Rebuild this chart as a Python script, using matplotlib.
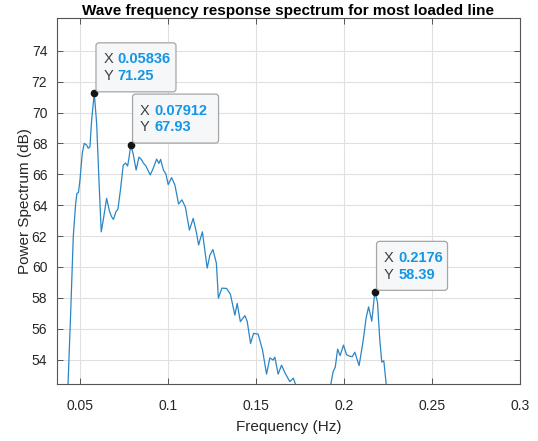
import matplotlib
matplotlib.use("Agg")
import matplotlib.pyplot as plt
from matplotlib.patches import FancyBboxPatch

plt.rcParams['font.family'] = ['Liberation Sans', 'DejaVu Sans']

# Power spectrum of the line tension (frequency in Hz, power in dB)
freq = [0.0432, 0.04495, 0.04643, 0.04779, 0.04853, 0.04938, 0.05023, 0.05153,
        0.05267, 0.05403, 0.05494, 0.0559, 0.05686, 0.05836, 0.0597, 0.06101,
        0.06231, 0.06345, 0.06537, 0.06696, 0.06821, 0.06923, 0.07065, 0.07178,
        0.0732, 0.07479, 0.07615, 0.07729, 0.07802, 0.07912, 0.08058, 0.08211,
        0.0837, 0.08512, 0.08625, 0.08767, 0.09011, 0.09181, 0.09374, 0.09504,
        0.09601, 0.0976, 0.09901, 0.10032, 0.10225, 0.10412, 0.10622, 0.10809,
        0.11008, 0.11235, 0.1145, 0.11643, 0.11756, 0.11972, 0.12244, 0.12398,
        0.12568, 0.12766, 0.1288, 0.13078, 0.13345, 0.13561, 0.13816, 0.13946,
        0.14128, 0.14383, 0.14514, 0.14707, 0.14877, 0.15138, 0.15387, 0.15614,
        0.15801, 0.15989, 0.16085, 0.16272, 0.16465, 0.16652, 0.16936, 0.17135,
        0.17333, 0.1830, 0.19234, 0.19392, 0.19517, 0.19648, 0.19789, 0.19982,
        0.20153, 0.2034, 0.20482, 0.20623, 0.20867, 0.21094, 0.21265, 0.21406,
        0.21588, 0.2176, 0.21911, 0.22042, 0.22155, 0.22269, 0.22422, 0.2290]
power = [51.6, 56.99, 61.96, 64.12, 64.77, 64.82, 65.63, 67.36,
         68.01, 67.9, 67.69, 67.79, 69.52, 71.25, 69.31, 65.63,
         62.28, 63.04, 64.45, 63.62, 63.25, 63.08, 63.58, 63.75,
         64.98, 66.6, 66.73, 66.54, 67.04, 67.93, 67.25, 66.28,
         67.12, 66.96, 66.73, 66.54, 65.96, 66.39, 66.99, 66.71,
         66.97, 66.28, 66.02, 65.34, 65.79, 65.31, 64.08, 64.35,
         63.88, 62.39, 63.15, 62.18, 61.42, 62.28, 59.93, 60.77,
         61.13, 60.25, 57.98, 58.63, 58.61, 58.24, 56.88, 57.64,
         56.46, 56.85, 56.49, 55.05, 55.7, 55.65, 54.61, 53.06,
         54.11, 53.97, 54.16, 53.06, 53.64, 53.16, 52.57, 52.8,
         52.15, 51.0, 52.23, 53.21, 53.53, 54.68, 54.26, 54.94,
         54.32, 54.22, 54.19, 54.48, 53.61, 55.2, 56.69, 57.42,
         56.49, 58.39, 57.72, 55.26, 53.84, 53.93, 52.23, 50.8]

# Data tips on the main peaks
tip_freq = [0.05836, 0.07912, 0.2176]
tip_power = [71.25, 67.93, 58.39]
tip_box_width = [80, 86, 71]  # pixels

x_ticks = [0.05, 0.1, 0.15, 0.2, 0.25, 0.3]
x_tick_labels = ['0.05', '0.1', '0.15', '0.2', '0.25', '0.3']
y_ticks = [54, 56, 58, 60, 62, 64, 66, 68, 70, 72, 74]

fig = plt.figure(figsize=(5.38, 4.41), dpi=100)
ax = fig.add_axes([57 / 538, 1 - 384 / 441, 463 / 538, 366 / 441])

ax.plot(freq, power, color='#2a86c5', lw=0.9, zorder=3)

ax.set_xlim(0.0372, 0.3)
ax.set_ylim(52.42, 76.13)
ax.set_xticks(x_ticks)
ax.set_xticklabels(x_tick_labels)
ax.set_yticks(y_ticks)

ax.grid(True, color='#e0e0e0', lw=0.8)
ax.set_axisbelow(True)
for s in ax.spines.values():
    s.set_color('#555555')
    s.set_linewidth(0.8)
ax.tick_params(direction='in', top=True, right=True, length=4.5, width=0.7,
               color='#555555', labelsize=10, labelcolor='#262626')
ax.tick_params(axis='x', pad=10.5)
ax.tick_params(axis='y', pad=7)

ax.set_xlabel('Frequency (Hz)', fontsize=11, color='#262626', labelpad=5)
ax.set_ylabel('Power Spectrum (dB)', fontsize=11, color='#262626', labelpad=0)
ax.set_title('Wave frequency response spectrum for most loaded line',
             fontsize=11, fontweight='bold', pad=2)

# Data tips: marker plus a rounded box anchored up-right of the point
W, H = fig.bbox.width, fig.bbox.height
for f, p, w in zip(tip_freq, tip_power, tip_box_width):
    ax.plot(f, p, 'o', ms=4.5, color='#151515', mec='#151515', zorder=6,
            clip_on=False)
    px, py = ax.transData.transform((f, p))
    left = px + 1.7
    bottom = py + 1.5
    h = 49
    box = FancyBboxPatch((left, bottom), w, h,
                         boxstyle='round,pad=0,rounding_size=3',
                         transform=None, facecolor='#f6f7f9',
                         edgecolor='#a6a6a6', lw=0.9, zorder=7)
    fig.patches.append(box)
    top = bottom + h
    for row, (name, val) in enumerate([('X', f), ('Y', p)]):
        yc = top - 16.6 - 16.7 * row
        fig.text((left + 7.3) / W, yc / H, name,
                 fontsize=10.5, color='#404040', va='center', ha='left',
                 zorder=8)
        fig.text((left + 21.7) / W, yc / H, f'{val:.4g}',
                 fontsize=10.5, color='#1496e4', fontweight='bold',
                 va='center', ha='left', zorder=8)

fig.savefig('out.png', dpi=100)
